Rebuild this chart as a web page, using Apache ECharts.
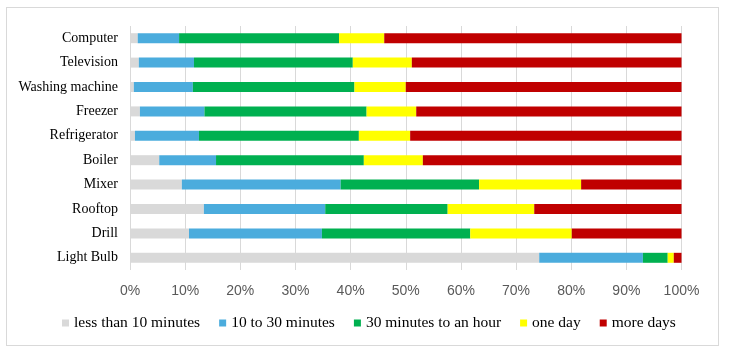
<!DOCTYPE html>
<html>
<head>
<meta charset="utf-8">
<script src="https://cdn.jsdelivr.net/npm/echarts@6/dist/echarts.min.js"></script>
<style>
html,body{margin:0;padding:0;background:#fff;}
#frame{position:absolute;left:6px;top:7px;width:713px;height:339px;border:1px solid #d9d9d9;box-sizing:border-box;}
#chart{position:absolute;left:0;top:0;width:731px;height:357px;}
</style>
</head>
<body>
<div id="frame"></div>
<div id="chart"></div>
<script>
const categories = ['Computer','Television','Washing machine','Freezer','Refrigerator','Boiler','Mixer','Rooftop','Drill','Light Bulb'];
const seriesNames = ['less than 10 minutes','10 to 30 minutes','30 minutes to an hour','one day','more days'];
const lessThan10 = [1.4, 1.6, 0.7, 1.8, 0.9, 5.3, 9.4, 13.4, 10.7, 74.2];
const tenTo30   = [7.5, 10.0, 10.7, 11.7, 11.6, 10.3, 28.8, 22.0, 24.1, 18.8];
const thirtyToHour = [29.0, 28.8, 29.3, 29.4, 29.0, 26.8, 25.1, 22.2, 26.9, 4.5];
const oneDay    = [8.2, 10.7, 9.3, 9.0, 9.3, 10.7, 18.5, 15.7, 18.4, 1.1];
const moreDays  = [53.9, 48.9, 50.0, 48.1, 49.2, 46.9, 18.2, 26.7, 19.9, 1.4];
const colors = ['#D9D9D9','#4BACDD','#00B050','#FFFF00','#C00000'];
const values = [lessThan10, tenTo30, thirtyToHour, oneDay, moreDays];

const chart = echarts.init(document.getElementById('chart'));
chart.setOption({
  animation: false,
  grid: {left: 130, right: 49.5, top: 26, height: 244},
  legend: {
    bottom: 21, left: 57,
    itemWidth: 7, itemHeight: 7, itemGap: 19,
    icon: 'rect',
    textStyle: {fontFamily: 'Liberation Serif', fontSize: 15.5, color: '#000'},
    data: seriesNames
  },
  xAxis: {
    type: 'value', min: 0, max: 100, interval: 10,
    axisLabel: {formatter: '{value}%', fontFamily: 'Liberation Sans', fontSize: 14, color: '#595959', margin: 14},
    splitLine: {lineStyle: {color: '#d9d9d9', width: 1}},
    axisLine: {show: false}, axisTick: {show: false}
  },
  yAxis: {
    type: 'category', data: categories, inverse: true,
    axisLabel: {fontFamily: 'Liberation Serif', fontSize: 14, color: '#000', margin: 12},
    axisLine: {show: false}, axisTick: {show: false}
  },
  series: seriesNames.map((n, i) => ({
    name: n, type: 'bar', stack: 'total', barWidth: 10,
    itemStyle: {color: colors[i]},
    data: values[i]
  }))
});
</script>
</body>
</html>
